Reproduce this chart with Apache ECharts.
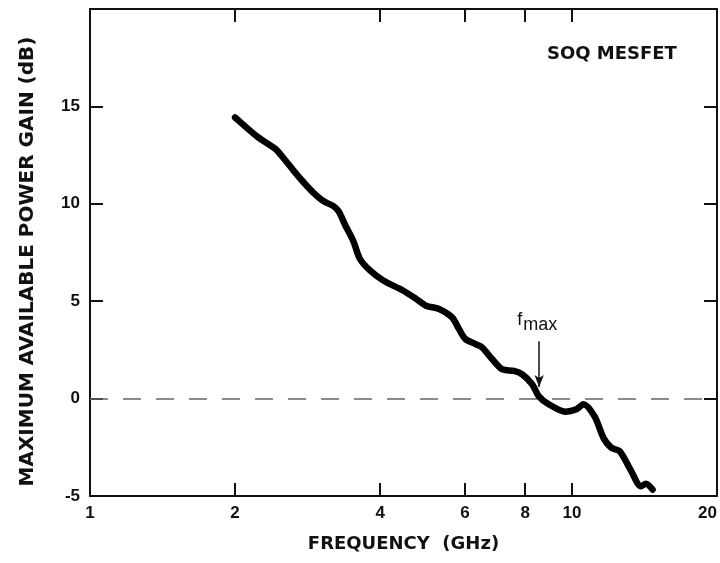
<!DOCTYPE html>
<html>
<head>
<meta charset="utf-8">
<script src="https://cdn.jsdelivr.net/npm/echarts@6/dist/echarts.min.js"></script>
<style>
html,body{margin:0;padding:0;background:#fff;}
#c{width:720px;height:563px;}
</style>
</head>
<body>
<div id="c"></div>
<script>
// Frequency (GHz) and maximum available power gain (dB)
var freq = [2.0, 2.12, 2.22, 2.33, 2.43, 2.52, 2.65, 2.78, 2.91, 3.05, 3.2, 3.28, 3.38, 3.52, 3.63, 3.81,
            4.06, 4.46, 4.75, 4.98, 5.3, 5.64, 5.83, 6.01, 6.31, 6.51, 6.83, 7.16, 7.58, 7.88,
            8.27, 8.53, 8.95, 9.69, 10.22, 10.57, 11.15, 11.64, 12.08, 12.56, 13.26, 13.91, 14.24, 14.7];
var gain = [14.43, 13.88, 13.46, 13.11, 12.8, 12.35, 11.68, 11.08, 10.56, 10.14, 9.88, 9.62, 8.94, 8.08, 7.18, 6.58,
            6.06, 5.55, 5.12, 4.77, 4.6, 4.17, 3.57, 3.06, 2.8, 2.63, 2.03, 1.51, 1.42, 1.25,
            0.74, 0.13, -0.29, -0.67, -0.55, -0.29, -0.93, -2.04, -2.53, -2.7, -3.7, -4.5, -4.37, -4.67];
var xTicks = [1, 2, 4, 6, 8, 10, 20];
var yTicks = [-5, 0, 5, 10, 15];
var fmaxFreq = 8.55;
var fmaxArrow = [2.95, 0.6];
var refLevel = 0;

var seriesData = freq.map(function (f, i) { return [f, gain[i]]; });
var font = 'Liberation Sans, Arial, sans-serif';
var nameFont = 'DejaVu Sans, sans-serif';
var ink = '#111';

var chart = echarts.init(document.getElementById('c'), null, {renderer: 'canvas'});
chart.setOption({
  animation: false,
  backgroundColor: '#fff',
  title: {
    text: 'SOQ MESFET',
    left: 547, top: 45, padding: 0,
    textStyle: {fontFamily: nameFont, fontSize: 18, fontWeight: 'bold', color: ink}
  },
  grid: {left: 90, right: 3, top: 9, bottom: 67, outerBoundsMode: 'none', containLabel: false},
  xAxis: [{
    type: 'log', logBase: 10, min: 1, max: 20,
    name: 'FREQUENCY  (GHz)', nameLocation: 'middle', nameGap: 39,
    nameTextStyle: {fontFamily: nameFont, fontSize: 18, fontWeight: 'bold', color: ink},
    axisLine: {show: true, onZero: false, lineStyle: {color: ink, width: 2}},
    axisTick: {show: true, inside: true, length: 13, customValues: xTicks, lineStyle: {color: ink, width: 2}},
    axisLabel: {customValues: xTicks, fontFamily: font, fontSize: 17, fontWeight: 'bold', color: ink, margin: 9,
                alignMaxLabel: 'right',
                formatter: function (v) { return String(Math.round(v)); }},
    minorTick: {show: false},
    splitLine: {show: false}
  }, {
    type: 'log', logBase: 10, min: 1, max: 20, position: 'top',
    axisLine: {show: true, onZero: false, lineStyle: {color: ink, width: 2}},
    axisTick: {show: true, inside: true, length: 13, customValues: xTicks, lineStyle: {color: ink, width: 2}},
    axisLabel: {show: false},
    splitLine: {show: false}
  }],
  yAxis: [{
    type: 'value', min: -5, max: 20, interval: 5,
    name: 'MAXIMUM AVAILABLE POWER GAIN (dB)', nameLocation: 'middle', nameGap: 52,
    nameTextStyle: {fontFamily: nameFont, fontSize: 20, fontWeight: 'bold', color: ink, padding: [0, 18, 0, 0]},
    axisLine: {show: true, onZero: false, lineStyle: {color: ink, width: 2}},
    axisTick: {show: true, inside: true, length: 13, customValues: yTicks, lineStyle: {color: ink, width: 2}},
    axisLabel: {customValues: yTicks, fontFamily: font, fontSize: 17, fontWeight: 'bold', color: ink, margin: 10},
    splitLine: {show: false}
  }, {
    type: 'value', min: -5, max: 20, interval: 5, position: 'right',
    axisLine: {show: true, onZero: false, lineStyle: {color: ink, width: 2}},
    axisTick: {show: true, inside: true, length: 13, customValues: yTicks, lineStyle: {color: ink, width: 2}},
    axisLabel: {show: false},
    splitLine: {show: false}
  }],
  series: [{
    type: 'line',
    data: seriesData,
    showSymbol: false,
    smooth: 0.3,
    lineStyle: {color: '#000', width: 6.5, cap: 'round', join: 'round'},
    z: 5,
    markLine: {
      silent: true,
      symbol: ['none', 'none'],
      animation: false,
      data: [
        {yAxis: refLevel, lineStyle: {color: '#666', width: 1.5, type: [18, 15]}, label: {show: false}},
        [
          {coord: [fmaxFreq, fmaxArrow[0]], symbol: 'none',
           lineStyle: {color: ink, width: 1.5, type: 'solid'},
           label: {show: true, position: 'start', distance: 2,
                   formatter: '{f|f}{s|max}',
                   rich: {f: {fontFamily: font, fontSize: 18, color: ink, padding: [0, 0, 10, 0]},
                          s: {fontFamily: font, fontSize: 18, color: ink, padding: [0, 4, 0, 1]}}}},
          {coord: [fmaxFreq, fmaxArrow[1]], symbol: 'arrow', symbolSize: [7, 12]}
        ]
      ]
    }
  }]
});
</script>
</body>
</html>
